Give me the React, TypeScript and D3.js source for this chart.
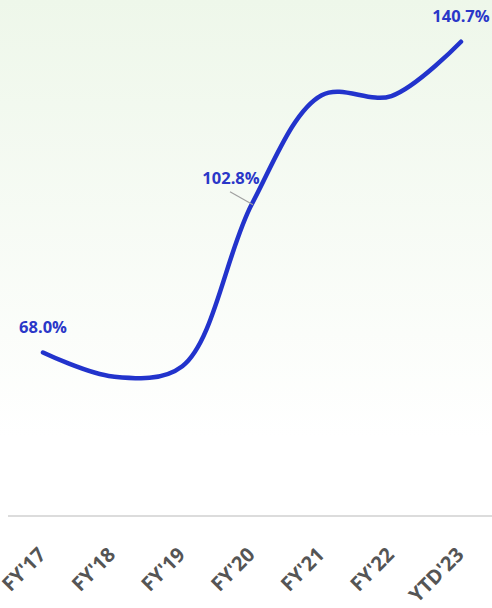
import React from "react";
import * as d3 from "d3";

const categories = ["FY'17", "FY'18", "FY'19", "FY'20", "FY'21", "FY'22", "YTD'23"];
const values = [68.0, 62.4, 64.8, 102.8, 128.2, 128.0, 140.7];
const labeled = [0, 3, 6];

const W = 492;
const H = 608;

export default function App() {
  const x = d3.scalePoint<string>().domain(categories).range([43, 461]);
  const y = d3.scaleLinear().domain([30, 150]).range([515, 2]);
  const line = d3
    .line<number>()
    .x((_, i) => x(categories[i]) as number)
    .y((d) => y(d))
    .curve(d3.curveCatmullRom.alpha(0.5));
  const fmt = (v: number) => v.toFixed(1) + "%";
  return (
    <svg
      width={W}
      height={H}
      style={{ position: "fixed", left: 0, top: 0, fontFamily: "'Open Sans', sans-serif" }}
    >
      <defs>
        <linearGradient id="bg" x1="0" y1="0" x2="0" y2="1">
          <stop offset="0" stopColor="#eef7ea" />
          <stop offset="0.72" stopColor="#ffffff" />
          <stop offset="1" stopColor="#ffffff" />
        </linearGradient>
      </defs>
      <rect x={0} y={0} width={W} height={H} fill="url(#bg)" />
      <line x1={8} x2={W} y1={516} y2={516} stroke="#dcdcdc" strokeWidth={2} />
      <path d={line(values) || ""} fill="none" stroke="#2233cc" strokeWidth={4.5} strokeLinecap="round" />
      <line
        x1={(x(categories[3]) as number) - 22}
        y1={y(values[3]) - 12}
        x2={(x(categories[3]) as number) + 1}
        y2={y(values[3]) + 1}
        stroke="#a0a0a0"
        strokeWidth={1.2}
      />
      {labeled.map((i) => {
        const cx = x(categories[i]) as number;
        const cy = y(values[i]);
        const dx = i === 3 ? -21 : 0;
        return (
          <text
            key={i}
            x={cx + dx}
            y={cy - 20}
            textAnchor="middle"
            fontSize={16.5}
            fontWeight={700}
            fill="#2a37c8"
          >
            {fmt(values[i])}
          </text>
        );
      })}
      {categories.map((c) => (
        <text
          key={c}
          transform={`translate(${(x(c) as number) + 4},${556}) rotate(-45)`}
          textAnchor="end"
          fontSize={20}
          fontWeight={700}
          fill="#555555"
        >
          {c}
        </text>
      ))}
    </svg>
  );
}
